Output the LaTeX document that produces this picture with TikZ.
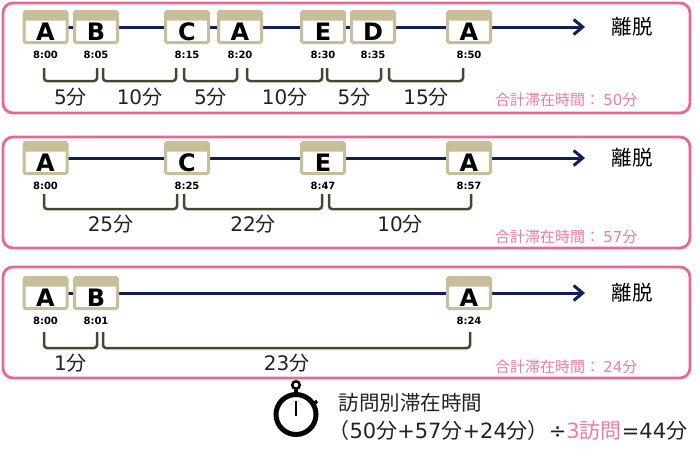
\documentclass[tikz,border=0pt]{standalone}
\usepackage{fontspec}
\setmainfont{Noto Sans CJK JP}
\newfontfamily\pgfont{DejaVu Sans}
\newfontfamily\vd{DejaVu Sans}
\usepackage{xcolor}
\usetikzlibrary{positioning,arrows.meta,backgrounds,calc}

\definecolor{panelpink}{RGB}{232,104,146}
\definecolor{sumpink}{RGB}{240,122,162}
\definecolor{navyline}{RGB}{16,30,90}
\definecolor{pagetan}{RGB}{200,191,154}
\definecolor{brkolive}{RGB}{72,68,46}
\definecolor{txtgray}{RGB}{34,34,34}

\tikzset{
	panel/.style={draw=panelpink,line width=2.8pt,rounded corners=10pt},
	pg/.style={draw=pagetan,fill=white,line width=3pt,rounded corners=1.5pt,
		minimum width=43pt,minimum height=31pt,inner sep=0pt,
		text height=27pt,text depth=0pt,
		font=\pgfont\bfseries\fontsize{24}{24}\selectfont,
		path picture={\fill[pagetan] (path picture bounding box.north west)
			rectangle ([yshift=-9pt]path picture bounding box.north east);}},
	tm/.style={font=\pgfont\bfseries\fontsize{10}{10}\selectfont,inner sep=1pt},
	tl/.style={draw=navyline,line width=3pt},
	brk/.style={draw=brkolive,line width=2.5pt,rounded corners=3pt},
	dur/.style={text=txtgray,font=\fontsize{20}{20}\selectfont},
	dep/.style={font=\fontsize{20.5}{20.5}\selectfont},
	sum/.style={text=sumpink,font=\fontsize{15}{15}\selectfont,anchor=east},
}

\begin{document}
\begin{tikzpicture}[x=1pt,y=-1pt]
	\useasboundingbox (0,0) rectangle (700,453);
	% three visits
	\draw[panel] (3,3) rectangle (690,113);
	\draw[panel] (3,137) rectangle (690,248);
	\draw[panel] (3,267) rectangle (690,378);

	% visit 1
	\node[pg] (p1a) at (45.5,27) {A};
	\node[pg] (p1b) at (96,27) {B};
	\node[pg] (p1c) at (187,27) {C};
	\node[pg] (p1d) at (240,27) {A};
	\node[pg] (p1e) at (323,27) {E};
	\node[pg] (p1f) at (373,27) {D};
	\node[pg] (p1g) at (469,27) {A};
	\coordinate (e1) at (585,27);
	\begin{scope}[on background layer]
		\draw[tl,-{Straight Barb[length=9pt,width=15pt]}] (p1a.center) -- (e1);
	\end{scope}
	\node[dep,right=23pt of e1] (x1) {離脱};
	\node[tm,below=6pt of p1a] (t1a) {8:00};
	\node[tm,below=6pt of p1b] (t1b) {8:05};
	\node[tm,below=6pt of p1c] (t1c) {8:15};
	\node[tm,below=6pt of p1d] (t1d) {8:20};
	\node[tm,below=6pt of p1e] (t1e) {8:30};
	\node[tm,below=6pt of p1f] (t1f) {8:35};
	\node[tm,below=6pt of p1g] (t1g) {8:50};
	\foreach \xa/\xb/\lab [count=\i] in {44/97/5,103/176/10,184/237/5,247/322/10,327/381/5,389/463/15}{
		\draw[brk] (\xa,68) |- (\xb,81) -- (\xb,68);
		\node[dur] (d1\i) at ({(\xa+\xb)/2},97) {{\vd\lab}分};
	}
	\node[sum] (s1) at (641,100) {合計滞在時間： {\vd 50}分};

	% visit 2
	\node[pg] (p2a) at (45.5,158) {A};
	\node[pg] (p2b) at (187,158) {C};
	\node[pg] (p2c) at (323,158) {E};
	\node[pg] (p2d) at (469,158) {A};
	\coordinate (e2) at (585,158);
	\begin{scope}[on background layer]
		\draw[tl,-{Straight Barb[length=9pt,width=15pt]}] (p2a.center) -- (e2);
	\end{scope}
	\node[dep,right=23pt of e2] (x2) {離脱};
	\node[tm,below=6pt of p2a] (t2a) {8:00};
	\node[tm,below=6pt of p2b] (t2b) {8:25};
	\node[tm,below=6pt of p2c] (t2c) {8:47};
	\node[tm,below=6pt of p2d] (t2d) {8:57};
	\foreach \xa/\xb/\lab [count=\i] in {44/177/25,184/322/22,329/471/10}{
		\draw[brk] (\xa,194) |- (\xb,209) -- (\xb,194);
		\node[dur] (d2\i) at ({(\xa+\xb)/2},224) {{\vd\lab}分};
	}
	\node[sum] (s2) at (641,237) {合計滞在時間： {\vd 57}分};

	% visit 3
	\node[pg] (p3a) at (45.5,293) {A};
	\node[pg] (p3b) at (96,293) {B};
	\node[pg] (p3c) at (469,293) {A};
	\coordinate (e3) at (585,293);
	\begin{scope}[on background layer]
		\draw[tl,-{Straight Barb[length=9pt,width=15pt]}] (p3a.center) -- (e3);
	\end{scope}
	\node[dep,right=23pt of e3] (x3) {離脱};
	\node[tm,below=6pt of p3a] (t3a) {8:00};
	\node[tm,below=6pt of p3b] (t3b) {8:01};
	\node[tm,below=6pt of p3c] (t3c) {8:24};
	\foreach \xa/\xb/\lab [count=\i] in {44/97/1,103/470/23}{
		\draw[brk] (\xa,332) |- (\xb,348) -- (\xb,332);
		\node[dur] (d3\i) at ({(\xa+\xb)/2},363) {{\vd\lab}分};
	}
	\node[sum] (s3) at (641,367) {合計滞在時間： {\vd 24}分};

	% stopwatch
	\draw[line width=5pt] (296,414.5) circle (20);
	\draw[line width=2.5pt] (296,385) circle (3.8);
	\fill (294,388) rectangle (298,394);
	\draw[line width=2.5pt] (296,401) -- (296,416);
	\draw[line width=3.5pt] ($(296,414.5)+(-32:19)$) -- ($(296,414.5)+(-32:25)$);

	% average
	\node[anchor=west,text=txtgray,font=\fontsize{20.5}{20.5}\selectfont] (m1) at (335,403) {訪問別滞在時間};
	\node[anchor=west,text=txtgray,font=\fontsize{21}{21}\selectfont] (m2) at (325,431) {（{\vd 50}分{\vd +57}分{\vd +24}分）{\vd ÷}\textcolor{sumpink}{{\vd 3}訪問}{\vd =44}分};
\end{tikzpicture}
\end{document}
